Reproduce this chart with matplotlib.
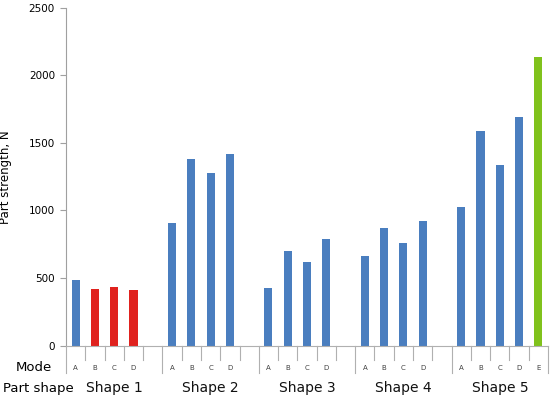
import matplotlib.pyplot as plt
import matplotlib.transforms as mtransforms

shapes = ["Shape 1", "Shape 2", "Shape 3", "Shape 4", "Shape 5"]
modes = ["A", "B", "C", "D", "E"]
# part strength per mode (None = mode not tested)
shape1 = [483, 418, 430, 410, None]
shape2 = [904, 1382, 1278, 1418, None]
shape3 = [428, 700, 618, 786, None]
shape4 = [662, 872, 756, 920, None]
shape5 = [1024, 1592, 1340, 1692, 2135]
shape1_colors = ["blue", "red", "red", "red", None]
shape5_colors = ["blue", "blue", "blue", "blue", "green"]

palette = {"blue": "#4a7ebf", "red": "#e0221e", "green": "#80c21c"}
groups = [shape1, shape2, shape3, shape4, shape5]
group_colors = [shape1_colors, ["blue"] * 5, ["blue"] * 5, ["blue"] * 5, shape5_colors]

fig = plt.figure(figsize=(5.5, 3.97), dpi=100)
ax = fig.add_axes([0.12, 0.1297, 0.8764, 0.8503])

narrow = "Liberation Sans Narrow"
ft = mtransforms.blended_transform_factory(ax.transData, fig.transFigure)

for g, (vals, cols) in enumerate(zip(groups, group_colors)):
    for m, v in enumerate(vals):
        slot = g * 5 + m
        if v is not None:
            ax.bar(slot + 0.5, v, width=0.42, color=palette[cols[m]], zorder=2)
            ax.text(slot + 0.5, 0.0735, modes[m], transform=ft, ha="center",
                    va="center", fontsize=5, color="#404040")
    ax.text(g * 5 + 2.5, 0.022, shapes[g], transform=ft, ha="center",
            va="center", fontsize=10, color="#111111")

# category tick lines below the axis
for b in range(26):
    y_end = 0.06 if b % 5 == 0 else 0.0935
    ax.plot([b, b], [0.1297, y_end], transform=ft, color="#b0b0b0",
            linewidth=0.8, clip_on=False)

ax.set_xlim(0, 25)
ax.set_ylim(0, 2500)
ax.set_yticks([0, 500, 1000, 1500, 2000, 2500])
ax.set_xticks([])
for lbl in ax.get_yticklabels():
    lbl.set_fontfamily(narrow)
    lbl.set_fontsize(7.5)
ax.tick_params(axis="y", length=4, color="#a0a0a0", pad=4)
for side in ["top", "right"]:
    ax.spines[side].set_visible(False)
ax.spines["left"].set_color("#a0a0a0")
ax.spines["bottom"].set_color("#b0b0b0")
ax.set_ylabel("Part strength, N", fontsize=8.5)
ax.yaxis.set_label_coords(-0.112, 0.5)

fig.text(0.095, 0.0735, "Mode", ha="right", va="center", fontsize=9.5)
fig.text(0.005, 0.022, "Part shape", ha="left", va="center", fontsize=9.5)

fig.savefig("out.png", dpi=100)
